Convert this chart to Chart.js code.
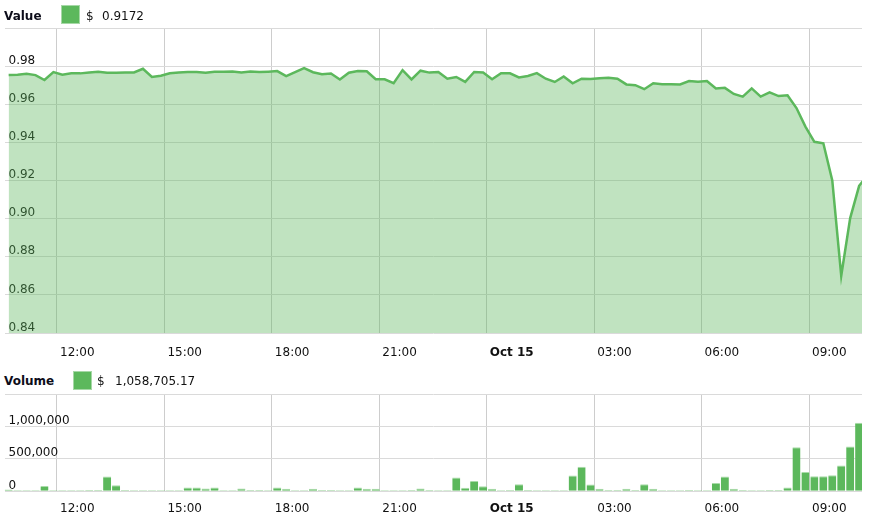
<!DOCTYPE html>
<html>
<head>
<meta charset="utf-8">
<script src="https://cdn.jsdelivr.net/npm/chart.js@4.4.1/dist/chart.umd.min.js"></script>
<style>
  body { margin: 0; background: #fff; font-family: "DejaVu Sans", Verdana, sans-serif; font-size: 12px; color: #111; }
  #wrap { position: relative; width: 869px; height: 517px; overflow: hidden; }
  canvas { position: absolute; left: 0; }
  .lbl { position: absolute; line-height: 14px; white-space: nowrap; z-index: 2; }
  .ttl { font-weight: bold; color: #0d0d1a; }
  .box { position: absolute; width: 17px; height: 17px; background: #5cb85c; border: 1px solid #a6d8a6; z-index: 2; }
</style>
</head>
<body>
<div id="wrap">
  <span class="lbl ttl" style="left:4px;top:9px">Value</span>
  <div class="box" style="left:61px;top:5px"></div>
  <span class="lbl" style="left:86px;top:9px">$</span>
  <span class="lbl" id="lastValue" style="left:102px;top:9px"></span>

  <span class="lbl ttl" style="left:4px;top:374px">Volume</span>
  <div class="box" style="left:73px;top:371px"></div>
  <span class="lbl" style="left:97px;top:374px">$</span>
  <span class="lbl" id="lastVolume" style="left:115px;top:374px"></span>

  <canvas id="valueChart" width="869" height="372" style="top:0"></canvas>
  <canvas id="volumeChart" width="869" height="129" style="top:388px"></canvas>
</div>
<script>
// datos: una muestra cada 15 minutos, desde las 10:39 del 14 oct (horas desde 00:00 del 14 oct)
const startHour = 10.65;
const stepHour = 0.25;

const tickHours = [12, 15, 18, 21, 24, 27, 30, 33];
const tickLabels = ['12:00', '15:00', '18:00', '21:00', 'Oct 15', '03:00', '06:00', '09:00'];

// precio (el ultimo punto queda fuera del area visible)
const prices = [
  0.9753, 0.9755, 0.9760, 0.9753, 0.9727, 0.9769, 0.9755, 0.9762, 0.9762, 0.9767,
  0.9771, 0.9765, 0.9765, 0.9767, 0.9767, 0.9786, 0.9743, 0.9750, 0.9763, 0.9767,
  0.9769, 0.9769, 0.9765, 0.9770, 0.9770, 0.9772, 0.9767, 0.9772, 0.9769, 0.9771,
  0.9774, 0.9748, 0.9769, 0.9789, 0.9768, 0.9758, 0.9761, 0.9730, 0.9765, 0.9774,
  0.9773, 0.9731, 0.9731, 0.9711, 0.9779, 0.9730, 0.9776, 0.9766, 0.9769, 0.9734,
  0.9743, 0.9717, 0.9769, 0.9767, 0.9731, 0.9763, 0.9762, 0.9741, 0.9748, 0.9763,
  0.9734, 0.9717, 0.9746, 0.9710, 0.9734, 0.9733, 0.9736, 0.9739, 0.9734, 0.9704,
  0.9700, 0.9679, 0.9710, 0.9705, 0.9705, 0.9704, 0.9722, 0.9718, 0.9722, 0.9683,
  0.9686, 0.9654, 0.9640, 0.9683, 0.9640, 0.9662, 0.9643, 0.9647, 0.9580, 0.9483,
  0.9403, 0.9395, 0.9200, 0.8700, 0.9003, 0.9172, 0.9230
];

// volumen en dolares
const volumes = [
  28000, 4000, 4000, 4000, 80000, 4000, 4000, 4000, 4000, 20000,
  20000, 230000, 93000, 20000, 4000, 4000, 4000, 4000, 4000, 4000,
  60000, 60000, 45000, 60000, 4000, 4000, 43000, 20000, 20000, 4000,
  60000, 40000, 4000, 4000, 40000, 20000, 20000, 4000, 4000, 58000,
  40000, 40000, 4000, 4000, 4000, 20000, 43000, 20000, 4000, 4000,
  213000, 55000, 160000, 78000, 40000, 4000, 20000, 108000, 20000, 4000,
  4000, 4000, 4000, 245000, 380000, 105000, 40000, 20000, 20000, 40000,
  20000, 108000, 40000, 4000, 4000, 4000, 20000, 4000, 4000, 127000,
  230000, 38000, 20000, 4000, 4000, 20000, 20000, 58000, 678000, 297000,
  231000, 231000, 246000, 398000, 692000, 1058705.17
];

const lastPrice = 0.9172;
const lastVolume = 1058705.17;

const xMin = 10.534;
const xMax = 34.48;
const green = '#5cb85c';
const fontFamily = '"DejaVu Sans", Verdana, sans-serif';

document.getElementById('lastValue').textContent = lastPrice.toFixed(4);
document.getElementById('lastVolume').textContent =
  lastVolume.toLocaleString('en-US', { minimumFractionDigits: 2 });

const pricePoints = prices.map((v, i) => ({ x: startHour + i * stepHour, y: v }));
const volumePoints = volumes.map((v, i) => ({ x: startHour + i * stepHour, y: v }));

function xScale(padding, height) {
  return {
    type: 'linear',
    min: xMin,
    max: xMax,
    offset: false,
    afterBuildTicks: (axis) => { axis.ticks = tickHours.map(h => ({ value: h })); },
    afterFit: (axis) => {
      axis.height = height;
      axis.paddingLeft = 0;
      axis.paddingRight = 0;
    },
    grid: { color: '#cdcdcd', drawTicks: false, offset: false },
    border: { display: false },
    ticks: {
      autoSkip: false,
      maxRotation: 0,
      align: 'start',
      labelOffset: 3,
      padding: padding,
      color: '#111',
      font: (ctx) => ({
        family: fontFamily,
        size: 12,
        weight: ctx.tick && ctx.tick.value === 24 ? 'bold' : 'normal'
      }),
      callback: (value) => tickLabels[tickHours.indexOf(value)]
    }
  };
}

function yScale(min, max, step, fmt) {
  return {
    min: min,
    max: max,
    afterFit: (axis) => {
      axis.width = 0;
      axis.paddingTop = 0;
      axis.paddingBottom = 0;
    },
    grid: { color: '#dadada', drawTicks: false },
    border: { display: false },
    ticks: {
      stepSize: step,
      mirror: true,
      padding: 4,
      labelOffset: -5.5,
      color: '#111',
      font: { family: fontFamily, size: 12 },
      callback: (value) => (Math.abs(value - max) < step / 10 ? '' : fmt(value))
    }
  };
}

const commonPlugins = { legend: { display: false }, tooltip: { enabled: false } };

// grafico de precio
new Chart(document.getElementById('valueChart'), {
  type: 'line',
  data: {
    datasets: [{
      data: pricePoints,
      borderColor: green,
      backgroundColor: 'rgba(92,184,92,0.39)',
      borderWidth: 2.5,
      pointRadius: 0,
      tension: 0,
      fill: 'start'
    }]
  },
  options: {
    responsive: false,
    animation: false,
    devicePixelRatio: 1,
    layout: { padding: { left: 4.5, right: 7, top: 28, bottom: 0 } },
    scales: {
      x: xScale(12.5, 39),
      y: yScale(0.84, 1.0, 0.02, v => v.toFixed(2))
    },
    plugins: commonPlugins
  }
});

// grafico de volumen
new Chart(document.getElementById('volumeChart'), {
  type: 'bar',
  data: {
    datasets: [{
      data: volumePoints,
      backgroundColor: green,
      borderColor: '#a9dba9',
      borderWidth: { top: 1, left: 0, right: 0, bottom: 0 },
      borderSkipped: 'bottom',
      barPercentage: 0.9,
      categoryPercentage: 1
    }]
  },
  options: {
    responsive: false,
    animation: false,
    devicePixelRatio: 1,
    layout: { padding: { left: 4.5, right: 7, top: 6, bottom: 0 } },
    scales: {
      x: xScale(10.2, 25.7),
      y: yScale(0, 1500000, 500000, v => v.toLocaleString('en-US'))
    },
    plugins: commonPlugins
  }
});
</script>
</body>
</html>
